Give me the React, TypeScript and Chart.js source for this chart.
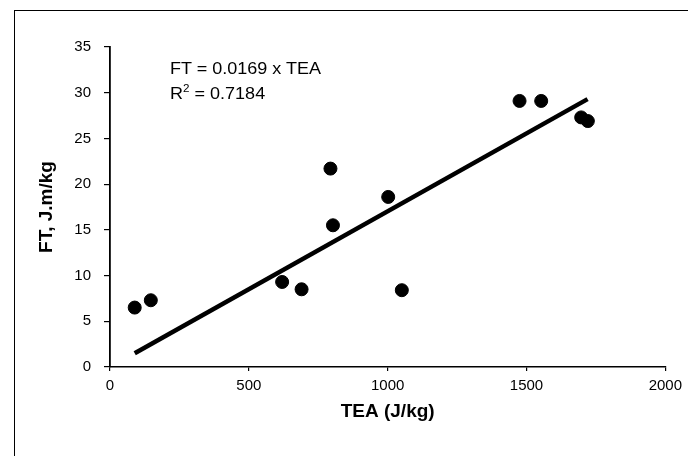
import React, { useEffect, useRef } from "react";
import { Chart, registerables } from "chart.js";

Chart.register(...registerables);

// Observed data (TEA in J/kg, FT in J.m/kg)
const teaValues = [89, 147, 620, 690, 794, 803, 1002, 1051, 1475, 1553, 1697, 1721];
const ftValues = [6.5, 7.3, 9.3, 8.5, 21.7, 15.5, 18.6, 8.4, 29.1, 29.1, 27.3, 26.9];

// Trend line end points (FT = 0.0169 x TEA)
const trendTea = [89, 1720];
const trendFt = [1.5, 29.3];

const xTickValues = [0, 500, 1000, 1500, 2000];
const yTickValues = [0, 5, 10, 15, 20, 25, 30, 35];

const equationLine1 = "FT = 0.0169 x TEA";
const equationLine2Prefix = "R";
const equationLine2Suffix = " = 0.7184";
const xTitle = "TEA (J/kg)";
const yTitle = "FT, J.m/kg";

const FONT = "'Liberation Sans', Arial, Helvetica, sans-serif";

export default function App() {
  const canvasRef = useRef<HTMLCanvasElement | null>(null);

  useEffect(() => {
    const canvas = canvasRef.current;
    if (!canvas) return;
    const points = teaValues.map((x, i) => ({ x, y: ftValues[i] }));
    const trend = trendTea.map((x, i) => ({ x, y: trendFt[i] }));

    const chart = new Chart(canvas, {
      type: "scatter",
      data: {
        datasets: [
          {
            type: "line",
            label: "Trend",
            data: trend,
            borderColor: "#000",
            borderWidth: 4.5,
            borderCapStyle: "butt",
            pointRadius: 0,
            fill: false,
            order: 2,
          } as any,
          {
            label: "FT",
            data: points,
            backgroundColor: "#000",
            borderColor: "#000",
            pointRadius: 6.5,
            pointHoverRadius: 6.5,
            order: 1,
          },
        ],
      },
      options: {
        responsive: false,
        maintainAspectRatio: false,
        animation: false,
        layout: { padding: { left: 35, top: 47, right: 20, bottom: 33 } },
        plugins: {
          legend: { display: false },
          tooltip: { enabled: false },
        },
        scales: {
          x: {
            type: "linear",
            min: 0,
            max: 2000,
            afterBuildTicks: (scale: any) => {
              scale.ticks = xTickValues.map((v) => ({ value: v }));
            },
            afterFit: (scale: any) => {
              scale.height = 56;
            },
            grid: {
              drawOnChartArea: false,
              drawTicks: true,
              tickLength: 4,
              color: "#000",
              lineWidth: 1.2,
            },
            border: { display: true, color: "#000", width: 1.6 },
            ticks: {
              color: "#000",
              padding: 6,
              maxRotation: 0,
              callback: (v: any) => String(v),
              font: { family: FONT, size: 15 },
            },
            title: {
              display: true,
              text: xTitle,
              color: "#000",
              padding: 0,
              font: { family: FONT, size: 19, weight: "bold" },
            },
          },
          y: {
            type: "linear",
            min: 0,
            max: 35,
            afterBuildTicks: (scale: any) => {
              scale.ticks = yTickValues.map((v) => ({ value: v }));
            },
            afterFit: (scale: any) => {
              scale.width = 75;
            },
            grid: {
              drawOnChartArea: false,
              drawTicks: true,
              tickLength: 6,
              color: "#000",
              lineWidth: 1.2,
            },
            border: { display: true, color: "#000", width: 1.8 },
            ticks: {
              color: "#000",
              padding: 13,
              callback: (v: any) => String(v),
              font: { family: FONT, size: 15 },
            },
            title: {
              display: true,
              text: yTitle,
              color: "#000",
              padding: 0,
              font: { family: FONT, size: 19, weight: "bold" },
            },
          },
        },
      },
    });
    return () => chart.destroy();
  }, []);

  return (
    <div
      style={{
        position: "fixed",
        left: 0,
        top: 0,
        width: 688,
        height: 456,
        background: "#fff",
        overflow: "hidden",
      }}
    >
      <div
        style={{
          position: "absolute",
          left: 14,
          top: 10,
          width: 700,
          height: 460,
          borderTop: "1.5px solid #000",
          borderLeft: "1.5px solid #000",
          boxSizing: "border-box",
        }}
      />
      <canvas
        ref={canvasRef}
        width={688}
        height={456}
        style={{ position: "absolute", left: 0, top: 0, width: 688, height: 456 }}
      />
      <div
        style={{
          position: "absolute",
          left: 170,
          top: 56,
          fontFamily: FONT,
          fontSize: 17,
          lineHeight: "25px",
          color: "#000",
          whiteSpace: "nowrap",
          transform: "scaleX(1.06)",
          transformOrigin: "left top",
        }}
      >
        <div>{equationLine1}</div>
        <div>
          {equationLine2Prefix}
          <sup style={{ fontSize: 11, lineHeight: 0 }}>2</sup>
          {equationLine2Suffix}
        </div>
      </div>
    </div>
  );
}
